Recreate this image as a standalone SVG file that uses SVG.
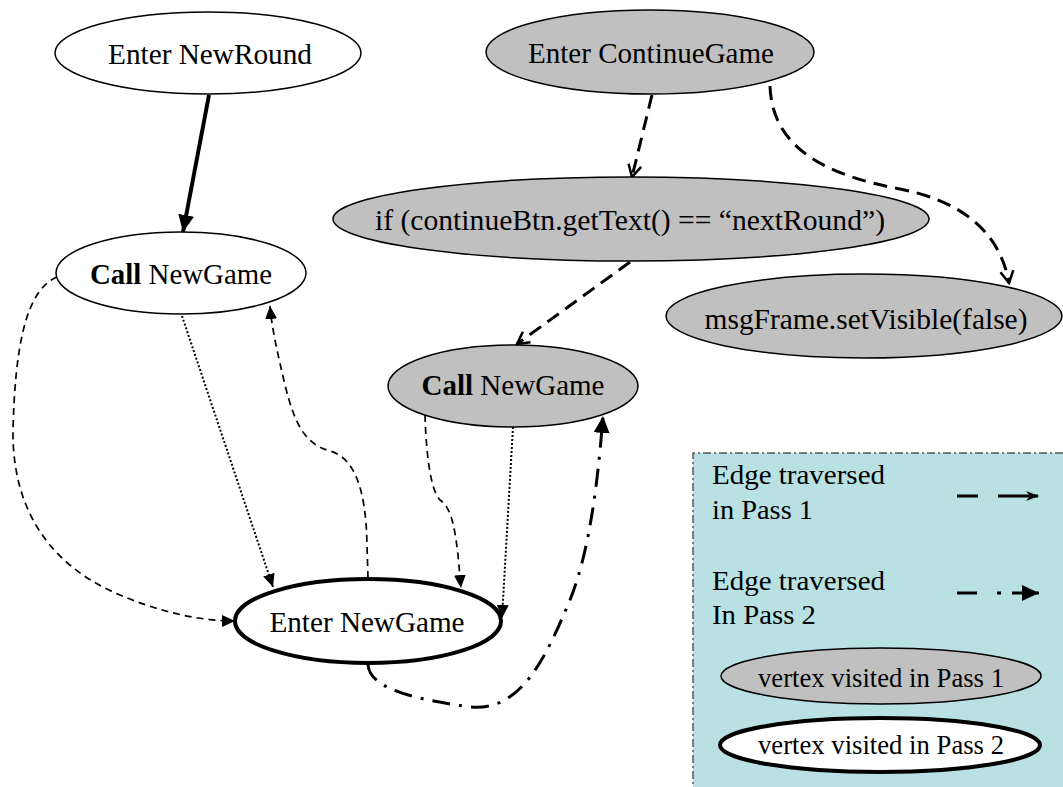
<svg xmlns="http://www.w3.org/2000/svg" width="1063" height="787" viewBox="0 0 1063 787">
  <style>
    text { font-family: "Liberation Serif", "DejaVu Serif", "Noto Serif", "Times New Roman", serif; fill: #000; }
    .lbl { font-size: 29px; text-anchor: middle; }
    .leg { font-size: 28px; }
    .legv { font-size: 26.5px; text-anchor: middle; }
    .node { fill: #fff; stroke: #000; stroke-width: 1.5; }
    .p1 { fill: #c0c0c0; stroke: #000; stroke-width: 1.5; }
    .p2 { fill: #fff; stroke: #000; stroke-width: 4; }
    .edge { fill: none; stroke: #000; }
    .solid { stroke-width: 4; }
    .dash { stroke-width: 1.7; stroke-dasharray: 7 5; }
    .dot { stroke-width: 2; stroke-dasharray: 2 2; }
    .pass1 { stroke-width: 3; stroke-dasharray: 14 8; }
    .pass2 { stroke-width: 3; stroke-dasharray: 18 9 3 9; }
  </style>
  <defs>
    <marker id="tri" markerUnits="userSpaceOnUse" markerWidth="14" markerHeight="12" refX="13" refY="6" orient="auto">
      <path d="M0,0 L13,6 L0,12 z" fill="#000"/>
    </marker>
    <marker id="triBig" markerUnits="userSpaceOnUse" markerWidth="18" markerHeight="16" refX="17" refY="8" orient="auto">
      <path d="M0,0 L17,8 L0,16 z" fill="#000"/>
    </marker>
    <marker id="chev" markerUnits="userSpaceOnUse" markerWidth="16" markerHeight="16" refX="14" refY="8" orient="auto">
      <path d="M2,1.5 L14,8 L2,14.5" fill="none" stroke="#000" stroke-width="2.5"/>
    </marker>
    <marker id="legArrow" markerUnits="userSpaceOnUse" markerWidth="14" markerHeight="12" refX="13" refY="6" orient="auto">
      <path d="M0,1 L13,6 L0,11 L4,6 z" fill="#000"/>
    </marker>
  </defs>

  <!-- legend panel -->
  <g id="legend">
    <rect x="693" y="453" width="370" height="334" fill="#b9e0e3"/>
    <path d="M1063,453 L693,453 L693,787" fill="none" stroke="#555" stroke-width="1.5" stroke-dasharray="8 3 2 3"/>
    <text class="leg" x="712" y="484" textLength="173" lengthAdjust="spacingAndGlyphs">Edge traversed</text>
    <text class="leg" x="712" y="519" textLength="101" lengthAdjust="spacingAndGlyphs">in Pass 1</text>
    <line class="edge" x1="957" y1="496" x2="1039" y2="496" stroke-width="3" stroke-dasharray="21 20 40" marker-end="url(#legArrow)"/>
    <text class="leg" x="712" y="590" textLength="173" lengthAdjust="spacingAndGlyphs">Edge traversed</text>
    <text class="leg" x="712" y="624" textLength="104" lengthAdjust="spacingAndGlyphs">In Pass 2</text>
    <path class="edge" d="M957,593 L977,593 M997,593 L1001,593 M1012,593 L1039,593" stroke-width="3" marker-end="url(#triBig)"/>
    <g id="legend-p1">
      <ellipse class="p1" cx="881" cy="676" rx="160" ry="28"/>
      <text class="legv" x="881" y="687" textLength="246" lengthAdjust="spacingAndGlyphs">vertex visited in Pass 1</text>
    </g>
    <g id="legend-p2">
      <ellipse class="p2" cx="880" cy="745" rx="160" ry="27"/>
      <text class="legv" x="881" y="754" textLength="246" lengthAdjust="spacingAndGlyphs">vertex visited in Pass 2</text>
    </g>
  </g>

  <!-- connectors -->
  <g id="edges">
    <line class="edge solid" x1="209" y1="95" x2="183" y2="232" marker-end="url(#triBig)"/>
    <line class="edge pass1" x1="652" y1="95" x2="632" y2="177" marker-end="url(#chev)"/>
    <path class="edge pass1" d="M770,86 C 772,150 830,176 900,189 C 962,201 1000,232 1009,283" marker-end="url(#chev)"/>
    <line class="edge pass1" x1="630" y1="262" x2="517" y2="344" marker-end="url(#chev)"/>
    <path class="edge dash" d="M57,277 C 25,290 15,350 13,430 C 12,520 60,570 120,595 C 160,612 200,621 235,621" marker-end="url(#tri)"/>
    <line class="edge dot" x1="182" y1="316" x2="273" y2="587" marker-end="url(#tri)"/>
    <path class="edge dash" d="M368,578 L367,545 C 366,490 355,458 330,451 C 305,444 295,425 285,385 C 278,355 272,330 270,306" marker-end="url(#tri)"/>
    <path class="edge dash" d="M425,415 C 426,450 430,490 440,500 C 452,508 455,530 458,555 L461,588" marker-end="url(#tri)"/>
    <line class="edge dot" x1="513" y1="427" x2="502" y2="618" marker-end="url(#tri)"/>
    <path class="edge pass2" d="M368,665 C 370,690 420,700 470,707 C 520,712 545,660 570,600 C 590,550 598,480 603,416" marker-end="url(#triBig)"/>
  </g>

  <!-- vertices -->
  <g id="enter-newround">
    <ellipse class="node" cx="208" cy="53" rx="153" ry="41"/>
    <text class="lbl" x="210" y="64" textLength="204" lengthAdjust="spacingAndGlyphs">Enter NewRound</text>
  </g>
  <g id="call-newgame-1">
    <ellipse class="node" cx="181" cy="273" rx="125" ry="41"/>
    <text class="lbl" x="181" y="284" textLength="182" lengthAdjust="spacingAndGlyphs"><tspan font-weight="bold">Call</tspan> NewGame</text>
  </g>
  <g id="enter-continuegame">
    <ellipse class="p1" cx="650" cy="52" rx="164" ry="42"/>
    <text class="lbl" x="651" y="63" textLength="246" lengthAdjust="spacingAndGlyphs">Enter ContinueGame</text>
  </g>
  <g id="if-nextround">
    <ellipse class="p1" cx="631" cy="219" rx="298" ry="42"/>
    <text class="lbl" x="630" y="230" textLength="510" lengthAdjust="spacingAndGlyphs">if (continueBtn.getText() == “nextRound”)</text>
  </g>
  <g id="msgframe-hide">
    <ellipse class="p1" cx="864" cy="316" rx="198" ry="42"/>
    <text class="lbl" x="866" y="329" textLength="323" lengthAdjust="spacingAndGlyphs">msgFrame.setVisible(false)</text>
  </g>
  <g id="call-newgame-2">
    <ellipse class="p1" cx="513" cy="386" rx="125" ry="41"/>
    <text class="lbl" x="513" y="395" textLength="183" lengthAdjust="spacingAndGlyphs"><tspan font-weight="bold">Call</tspan> NewGame</text>
  </g>
  <g id="enter-newgame">
    <ellipse class="p2" cx="368" cy="621" rx="133" ry="42"/>
    <text class="lbl" x="367" y="632" textLength="195" lengthAdjust="spacingAndGlyphs">Enter NewGame</text>
  </g>
</svg>
